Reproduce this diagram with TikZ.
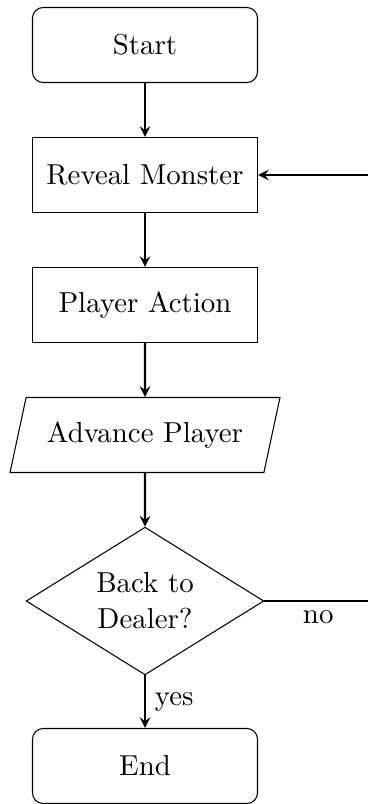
\documentclass[tikz,border=0pt]{standalone}
\usetikzlibrary{shapes.geometric,arrows}
\begin{document}
\begin{tikzpicture}[x=0.013333cm, y=-0.013333cm,
  every node/.style={font=\fontsize{10.95}{13.6}\selectfont},
  terminal/.style={draw, thin, rounded corners, minimum width=3cm, minimum height=1cm},
  process/.style={draw, thin, minimum width=3cm, minimum height=1cm},
  iobox/.style={draw, thin, trapezium, trapezium left angle=70, trapezium right angle=110,
    trapezium stretches body, minimum width=3.6cm, minimum height=1cm},
  decision/.style={draw, thin, diamond, aspect=2, inner sep=1pt, align=center,
    minimum width=3.17cm, minimum height=1.97cm},
  conn/.style={thick, ->, >=stealth}]
  \useasboundingbox (0,0) rectangle (368,804);
  \clip (0,0) rectangle (368,804);

  % flow nodes
  \node[terminal] (start)  at (145,45)  {Start};
  \node[process]  (reveal) at (145,175) {Reveal Monster};
  \node[process]  (action) at (145,305) {Player Action};
  \node[iobox]    (adv)    at (145,435) {Advance Player};
  \node[decision] (dec)    at (145,601) {Back to\\Dealer?};
  \node[terminal] (stop)   at (145,766) {End};
  \coordinate (loop) at (372,601);

  % connectors
  \draw[conn] (start) -- (reveal);
  \draw[conn] (reveal) -- (action);
  \draw[conn] (action) -- (adv);
  \draw[conn] (adv) -- (dec);
  \draw[conn] (dec) -- node[right] {yes} (stop);
  \draw[conn] (dec.east) -- node[below] {no} (loop) |- (reveal.east);
\end{tikzpicture}
\end{document}
